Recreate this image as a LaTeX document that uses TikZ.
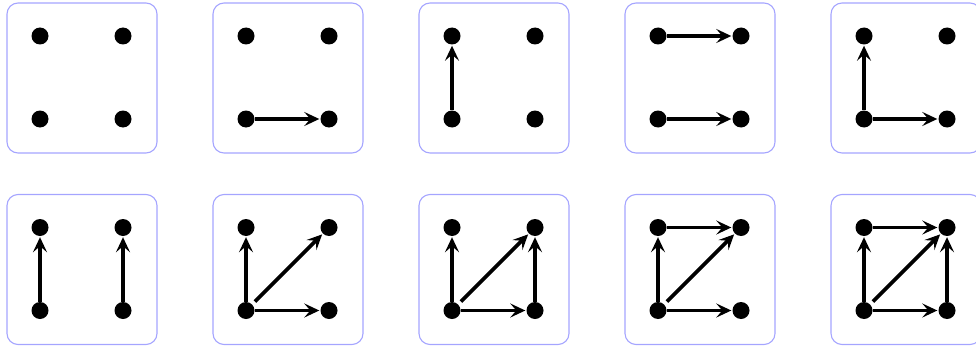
\documentclass[tikz,border=0pt]{standalone}
\usetikzlibrary{arrows.meta}
\definecolor{frameblue}{RGB}{165,165,255}
\begin{document}
\begin{tikzpicture}[x=1pt,y=-1pt,
  frame/.style={draw=frameblue,line width=1.1pt,rounded corners=11pt},
  dot/.style={circle,fill=black,inner sep=0pt,minimum size=17pt},
  edge/.style={line width=3.8pt,shorten >=1pt,-{Stealth[length=15pt,width=14pt,inset=6pt]}},
  diag/.style={edge,shorten <=4pt}]
\useasboundingbox (0,0) rectangle (976,345);
\newcommand\mypanel[3]{%
  \draw[frame] (#2+7,#3+3) rectangle ++(150,150);
  \node[dot] (#1tl) at (#2+40,#3+36) {};
  \node[dot] (#1tr) at (#2+123,#3+36) {};
  \node[dot] (#1bl) at (#2+40,#3+119) {};
  \node[dot] (#1br) at (#2+123,#3+119) {};
}
% row 1
\mypanel{a}{0}{0}
\mypanel{b}{206}{0}
\draw[edge] (bbl) -- (bbr);
\mypanel{c}{412}{0}
\draw[edge] (cbl) -- (ctl);
\mypanel{d}{618}{0}
\draw[edge] (dtl) -- (dtr);
\draw[edge] (dbl) -- (dbr);
\mypanel{e}{824}{0}
\draw[edge] (ebl) -- (etl);
\draw[edge] (ebl) -- (ebr);
% row 2
\mypanel{f}{0}{191.5}
\draw[edge] (fbl) -- (ftl);
\draw[edge] (fbr) -- (ftr);
\mypanel{g}{206}{191.5}
\draw[edge] (gbl) -- (gtl);
\draw[diag] (gbl) -- (gtr);
\draw[edge] (gbl) -- (gbr);
\mypanel{h}{412}{191.5}
\draw[edge] (hbl) -- (htl);
\draw[diag] (hbl) -- (htr);
\draw[edge] (hbl) -- (hbr);
\draw[edge] (hbr) -- (htr);
\mypanel{i}{618}{191.5}
\draw[edge] (itl) -- (itr);
\draw[edge] (ibl) -- (itl);
\draw[diag] (ibl) -- (itr);
\draw[edge] (ibl) -- (ibr);
\mypanel{j}{824}{191.5}
\draw[edge] (jtl) -- (jtr);
\draw[edge] (jbl) -- (jtl);
\draw[diag] (jbl) -- (jtr);
\draw[edge] (jbl) -- (jbr);
\draw[edge] (jbr) -- (jtr);
\end{tikzpicture}
\end{document}
